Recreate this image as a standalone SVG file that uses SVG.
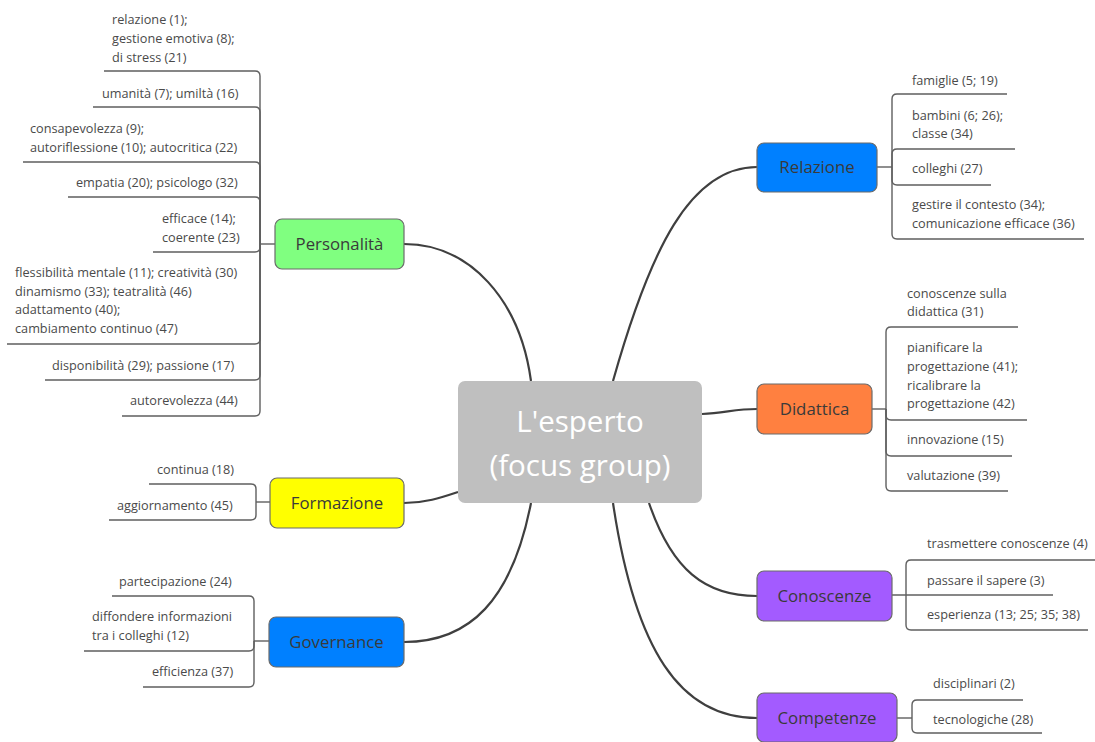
<svg xmlns="http://www.w3.org/2000/svg" width="1095" height="742" viewBox="0 0 1095 742">
  <style>
    .main { fill: none; stroke: #3f3f3f; stroke-width: 2.2; }
    .sub { fill: none; stroke: #5f5f5f; stroke-width: 1.4; }
    .box { stroke: #6b6b6b; stroke-width: 1.2; }
    .lbl { font-family: "Open Sans", "Noto Sans", sans-serif; font-size: 16.8px; fill: #3a3a3a; text-anchor: middle; }
    .leaf { font-family: "Open Sans", "Noto Sans", sans-serif; font-size: 12.7px; fill: #4a4a4a; }
    .core { font-family: "Open Sans", "Noto Sans", sans-serif; font-size: 29.5px; fill: #ffffff; text-anchor: middle; }
  </style>
  <rect width="1095" height="742" fill="#ffffff"/>

  <!-- connectors -->
  <g id="connectors">
    <!-- centre to topics -->
    <path class="main" d="M 404 244 C 470 244 520 300 531 381"/>
    <path class="main" d="M 613 381 C 650 250 690 167 757 167"/>
    <path class="main" d="M 702 414 C 725 413 735 409 757 409"/>
    <path class="main" d="M 458 492 C 440 498 425 503 404 503"/>
    <path class="main" d="M 531 503 C 512 600 470 642 404 642"/>
    <path class="main" d="M 649 503 C 672 570 705 596 757 596"/>
    <path class="main" d="M 613 503 C 635 650 680 718 757 718"/>

    <!-- Personalità subtopics -->
    <path class="sub" d="M 275 244 H 260"/>
    <path class="sub" d="M 260 244 V 76 Q 260 71 255 71 H 104"/>
    <path class="sub" d="M 260 244 V 112 Q 260 107 255 107 H 93"/>
    <path class="sub" d="M 260 244 V 167 Q 260 162 255 162 H 23"/>
    <path class="sub" d="M 260 244 V 202 Q 260 197 255 197 H 68"/>
    <path class="sub" d="M 260 244 V 247 Q 260 252 255 252 H 153"/>
    <path class="sub" d="M 260 244 V 339 Q 260 344 255 344 H 7"/>
    <path class="sub" d="M 260 244 V 375 Q 260 380 255 380 H 45"/>
    <path class="sub" d="M 260 244 V 411 Q 260 416 255 416 H 122"/>

    <!-- Formazione subtopics -->
    <path class="sub" d="M 270 502 H 256"/>
    <path class="sub" d="M 256 502 V 489 Q 256 484 251 484 H 149"/>
    <path class="sub" d="M 256 502 V 515 Q 256 520 251 520 H 109"/>

    <!-- Governance subtopics -->
    <path class="sub" d="M 269 641 H 254"/>
    <path class="sub" d="M 254 641 V 601 Q 254 596 249 596 H 112"/>
    <path class="sub" d="M 254 641 V 646 Q 254 651 249 651 H 84"/>
    <path class="sub" d="M 254 641 V 682 Q 254 687 249 687 H 143"/>

    <!-- Relazione subtopics -->
    <path class="sub" d="M 877 167 H 892"/>
    <path class="sub" d="M 892 167 V 99 Q 892 94 897 94 H 1007"/>
    <path class="sub" d="M 892 167 V 154 Q 892 149 897 149 H 1015"/>
    <path class="sub" d="M 892 167 V 180 Q 892 185 897 185 H 991"/>
    <path class="sub" d="M 892 167 V 234 Q 892 239 897 239 H 1084"/>

    <!-- Didattica subtopics -->
    <path class="sub" d="M 872 409 H 886"/>
    <path class="sub" d="M 886 409 V 332 Q 886 327 891 327 H 1018"/>
    <path class="sub" d="M 886 409 V 415 Q 886 420 891 420 H 1027"/>
    <path class="sub" d="M 886 409 V 451 Q 886 456 891 456 H 1012"/>
    <path class="sub" d="M 886 409 V 486 Q 886 491 891 491 H 1008"/>

    <!-- Conoscenze subtopics -->
    <path class="sub" d="M 892 595 H 1053"/>
    <path class="sub" d="M 906 595 V 565 Q 906 560 911 560 H 1095"/>
    <path class="sub" d="M 906 595 V 625 Q 906 630 911 630 H 1088"/>

    <!-- Competenze subtopics -->
    <path class="sub" d="M 897 718 H 912"/>
    <path class="sub" d="M 912 718 V 705 Q 912 700 917 700 H 1023"/>
    <path class="sub" d="M 912 718 V 728 Q 912 733 917 733 H 1042"/>
  </g>

  <!-- central topic -->
  <g id="centro">
    <rect x="458" y="381" width="244" height="122" rx="7" fill="#bfbfbf"/>
    <text class="core" x="580" y="432">L'esperto</text>
    <text class="core" x="580" y="476">(focus group)</text>
  </g>

  <!-- main topics -->
  <g id="personalita">
    <rect class="box" x="275" y="219" width="129" height="50" rx="7" fill="#80ff80"/>
    <text class="lbl" x="339.5" y="250">Personalità</text>
  </g>
  <g id="formazione">
    <rect class="box" x="270" y="478" width="134" height="50" rx="7" fill="#ffff00"/>
    <text class="lbl" x="337" y="509">Formazione</text>
  </g>
  <g id="governance">
    <rect class="box" x="269" y="617" width="135" height="50" rx="7" fill="#0080ff"/>
    <text class="lbl" x="336.5" y="648">Governance</text>
  </g>
  <g id="relazione">
    <rect class="box" x="757" y="143" width="120" height="49" rx="7" fill="#0080ff"/>
    <text class="lbl" x="817" y="173">Relazione</text>
  </g>
  <g id="didattica">
    <rect class="box" x="757" y="384" width="115" height="50" rx="7" fill="#ff8040"/>
    <text class="lbl" x="814.5" y="415">Didattica</text>
  </g>
  <g id="conoscenze">
    <rect class="box" x="757" y="571" width="135" height="50" rx="7" fill="#a35bff"/>
    <text class="lbl" x="824.5" y="602">Conoscenze</text>
  </g>
  <g id="competenze">
    <rect class="box" x="757" y="693" width="140" height="49" rx="7" fill="#a35bff"/>
    <text class="lbl" x="827" y="724">Competenze</text>
  </g>

  <!-- Personalità leaves -->
  <g id="p-relazione"><text class="leaf" x="112" y="24">relazione (1);</text><text class="leaf" x="112" y="43">gestione emotiva (8);</text><text class="leaf" x="112" y="62">di stress (21)</text></g>
  <g id="p-umanita"><text class="leaf" x="102" y="98">umanità (7); umiltà (16)</text></g>
  <g id="p-consapevolezza"><text class="leaf" x="30" y="133">consapevolezza (9);</text><text class="leaf" x="30" y="152">autoriflessione (10); autocritica (22)</text></g>
  <g id="p-empatia"><text class="leaf" x="76" y="187">empatia (20); psicologo (32)</text></g>
  <g id="p-efficace"><text class="leaf" x="162" y="223">efficace (14);</text><text class="leaf" x="162" y="242">coerente (23)</text></g>
  <g id="p-flessibilita"><text class="leaf" x="15" y="277">flessibilità mentale (11); creatività (30)</text><text class="leaf" x="15" y="296">dinamismo (33); teatralità (46)</text><text class="leaf" x="15" y="314">adattamento (40);</text><text class="leaf" x="15" y="333">cambiamento continuo (47)</text></g>
  <g id="p-disponibilita"><text class="leaf" x="52" y="370">disponibilità (29); passione (17)</text></g>
  <g id="p-autorevolezza"><text class="leaf" x="130" y="405">autorevolezza (44)</text></g>

  <!-- Formazione leaves -->
  <g id="f-continua"><text class="leaf" x="157" y="474">continua (18)</text></g>
  <g id="f-aggiornamento"><text class="leaf" x="117" y="510">aggiornamento (45)</text></g>

  <!-- Governance leaves -->
  <g id="g-partecipazione"><text class="leaf" x="119" y="586">partecipazione (24)</text></g>
  <g id="g-diffondere"><text class="leaf" x="92" y="621">diffondere informazioni</text><text class="leaf" x="92" y="640">tra i colleghi (12)</text></g>
  <g id="g-efficienza"><text class="leaf" x="152" y="676">efficienza (37)</text></g>

  <!-- Relazione leaves -->
  <g id="r-famiglie"><text class="leaf" x="912" y="85">famiglie (5; 19)</text></g>
  <g id="r-bambini"><text class="leaf" x="912" y="120">bambini (6; 26);</text><text class="leaf" x="912" y="138">classe (34)</text></g>
  <g id="r-colleghi"><text class="leaf" x="912" y="173">colleghi (27)</text></g>
  <g id="r-contesto"><text class="leaf" x="912" y="209">gestire il contesto (34);</text><text class="leaf" x="912" y="228">comunicazione efficace (36)</text></g>

  <!-- Didattica leaves -->
  <g id="d-conoscenze"><text class="leaf" x="907" y="298">conoscenze sulla</text><text class="leaf" x="907" y="316">didattica (31)</text></g>
  <g id="d-progettazione"><text class="leaf" x="907" y="352">pianificare la</text><text class="leaf" x="907" y="371">progettazione (41);</text><text class="leaf" x="907" y="390">ricalibrare la</text><text class="leaf" x="907" y="408">progettazione (42)</text></g>
  <g id="d-innovazione"><text class="leaf" x="907" y="444">innovazione (15)</text></g>
  <g id="d-valutazione"><text class="leaf" x="907" y="480">valutazione (39)</text></g>

  <!-- Conoscenze leaves -->
  <g id="c-trasmettere"><text class="leaf" x="927" y="548">trasmettere conoscenze (4)</text></g>
  <g id="c-passare"><text class="leaf" x="927" y="585">passare il sapere (3)</text></g>
  <g id="c-esperienza"><text class="leaf" x="927" y="619">esperienza (13; 25; 35; 38)</text></g>

  <!-- Competenze leaves -->
  <g id="k-disciplinari"><text class="leaf" x="933" y="688">disciplinari (2)</text></g>
  <g id="k-tecnologiche"><text class="leaf" x="933" y="724">tecnologiche (28)</text></g>
</svg>
